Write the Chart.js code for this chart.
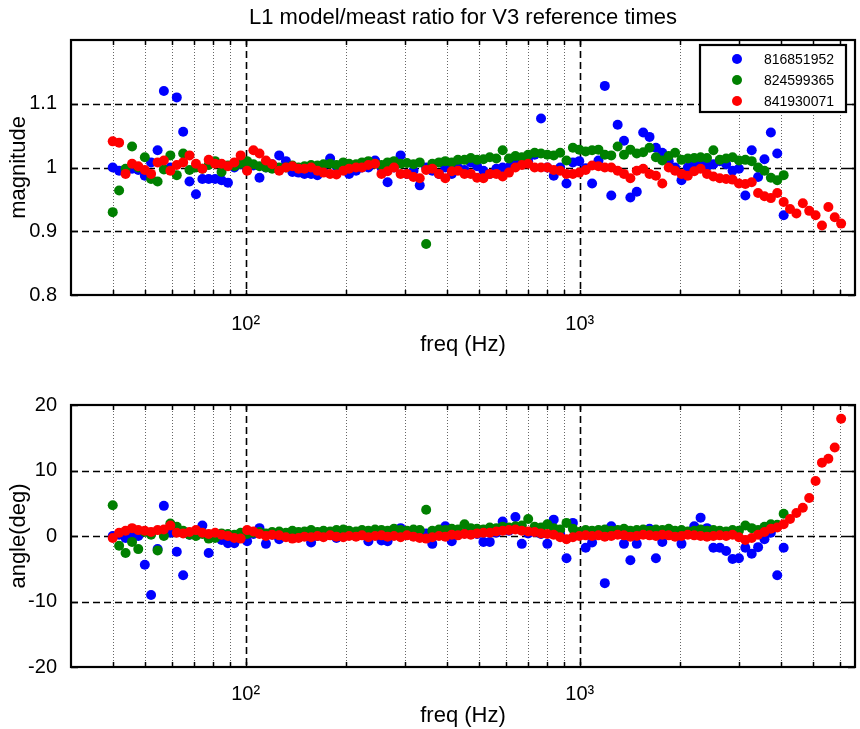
<!DOCTYPE html>
<html>
<head>
<meta charset="utf-8">
<script src="https://cdn.jsdelivr.net/npm/chart.js@4.4.0/dist/chart.umd.min.js"></script>
<style>
  html, body { margin: 0; padding: 0; background: #fff; }
  #wrap { position: relative; width: 860px; height: 729px; }
  .box { position: absolute; left: 0; width: 860px; }
</style>
</head>
<body>
<div id="wrap">
  <div class="box" style="top:0;height:365px"><canvas id="magChart"></canvas></div>
  <div class="box" style="top:365px;height:364px"><canvas id="phaseChart"></canvas></div>
</div>
<script>
// frequencies (Hz) shared by all three reference times
const freqs = [
  40, 41.8, 43.7, 45.7, 47.7, 49.9, 52.1, 54.5, 56.9, 59.5, 62.2, 65, 67.9, 71, 74.2, 77.5, 81, 84.7, 88.5, 92.5,
  96.6, 101, 105.5, 110, 115, 120, 126, 132, 138, 144, 150, 157, 164, 171, 179, 187, 196, 204, 214, 223,
  233, 244, 255, 266, 278, 291, 304, 318, 332, 347, 362, 379, 396, 414, 432, 452, 472, 493, 515, 538,
  563, 588, 614, 642, 671, 701, 733, 766, 800, 836, 874, 913, 954, 997, 1042, 1089, 1138, 1189, 1243, 1299,
  1357, 1418, 1482, 1549, 1618, 1691, 1767, 1847, 1930, 2017, 2107, 2202, 2301, 2405, 2513, 2626, 2744, 2868, 2997, 3132,
  3273, 3420, 3574, 3735, 3903, 4079, 4262, 4454, 4655, 4864, 5083, 5312, 5551, 5801, 6062
];

const labels = ['816851952', '824599365', '841930071'];
const colors = ['#0000ff', '#008000', '#ff0000'];

// magnitude ratio
const magBlue = [
  1.0, 0.995, 0.993, 0.998, 0.996, 0.987, 1.008, 1.027, 1.12, 1.0, 1.11, 1.056, 0.978, 0.958, 0.982, 0.982, 0.982, 0.98, 0.976, 1.0, 1.005, 0.997, 1.003, 0.984, 1.0, 1.005,
  1.019, 1.01, 0.993, 0.992, 0.99, 0.99, 0.988, 0.993, 1.014, 1.002, 0.998, 0.99, 0.995, 1.0, 1.0, 1.011, 1.0, 0.977, 1.0, 1.019, 0.99, 0.995, 0.972, 1.0, 0.995,
  0.99, 1.0, 0.99, 1.0, 0.996, 1.008, 1.002, 0.995, 0.99, 0.998, 1.0, 1.0, 1.006, 1.006, 1.01, 1.02, 1.077, 1.0, 0.987, 1.0, 0.975, 1.008, 1.01, 0.999, 0.975,
  1.011, 1.128, 0.956, 1.067, 1.042, 0.953, 0.962, 1.055, 1.048, 1.031, 1.023, 1.01, 1.0, 0.98, 1.0, 1.005, 1.008, 1.002, 1.005, 1.01, 1.005, 0.995, 0.998, 0.956, 1.027,
  0.985, 1.013, 1.055, 1.022, 0.925
];
const magGreen = [
  0.93, 0.964, 0.998, 1.033, 1.0, 1.016, 0.982, 0.978, 0.997, 1.019, 0.988, 1.022, 0.996, 1.0, 0.998, 1.004, 1.01, 0.993, 1.003, 1.002, 1.006, 1.01, 1.005, 1.002, 1.0, 0.998,
  1.0, 1.0, 1.003, 1.0, 1.002, 1.004, 1.003, 1.005, 1.006, 1.004, 1.008, 1.006, 1.005, 1.008, 1.01, 1.006, 1.004, 1.008, 1.01, 1.006, 1.007, 1.005, 1.008, 0.88, 1.006,
  1.008, 1.01, 1.008, 1.012, 1.012, 1.015, 1.012, 1.013, 1.016, 1.014, 1.027, 1.014, 1.018, 1.016, 1.02, 1.023, 1.022, 1.02, 1.019, 1.023, 1.011, 1.031, 1.028, 1.025, 1.027,
  1.028, 1.02, 1.019, 1.033, 1.02, 1.028, 1.022, 1.024, 1.031, 1.016, 1.011, 1.018, 1.023, 1.012, 1.014, 1.015, 1.016, 1.015, 1.027, 1.012, 1.014, 1.016, 1.011, 1.012, 1.01,
  1.0, 0.995, 0.984, 0.98, 0.988
];
const magRed = [
  1.041, 1.039, 0.99, 1.006, 1.002, 0.996, 0.99, 1.008, 1.011, 0.995, 1.004, 1.008, 1.019, 1.006, 0.998, 1.012, 1.006, 1.006, 1.002, 1.008, 1.019, 0.995, 1.027, 1.022, 1.011, 1.005,
  0.995, 1.0, 1.002, 0.998, 0.998, 1.0, 0.995, 0.992, 0.99, 0.989, 0.995, 0.998, 1.0, 1.0, 1.004, 1.006, 0.99, 0.994, 1.0, 0.99, 0.99, 0.985, 0.983, 0.996, 0.998,
  0.99, 0.983, 0.994, 0.995, 0.99, 0.99, 0.984, 0.983, 0.99, 0.99, 0.986, 0.992, 1.0, 1.004, 1.006, 1.0, 1.0, 1.0, 0.996, 0.995, 0.99, 0.99, 0.992, 0.996, 1.003,
  1.002, 1.0, 1.0, 0.995, 0.99, 0.983, 0.995, 0.998, 0.99, 0.987, 0.975, 1.0, 0.995, 0.99, 0.987, 0.994, 0.998, 0.99, 0.986, 0.983, 0.982, 0.981, 0.975, 0.974, 0.977,
  0.96, 0.955, 0.952, 0.96, 0.946, 0.935, 0.928, 0.944, 0.932, 0.925, 0.909, 0.938, 0.922, 0.912
];

// phase (deg)
const angBlue = [
  0.0, 0.2, -0.3, 0.3, 0.0, -4.4, -9.0, -2.0, 4.6, 0.5, -2.4, -6.0, 0.2, 0.4, 1.6, -2.6, 0.0, -0.6, -1.1, -1.1, 0.0, -0.8, 0.3, 1.2, -1.2, 0.2,
  -0.5, 0.0, 0.3, -0.2, 0.1, -1.0, 0.0, 0.4, 0.2, -0.3, 0.5, 0.3, 0.0, 0.6, -0.8, 0.4, -0.7, -0.8, 0.3, 1.2, 0.2, 0.0, 0.5, 0.4, -1.2,
  0.3, 1.5, -0.8, 0.2, 0.4, 0.6, 0.3, -0.9, -0.9, 0.5, 2.2, 0.8, 2.9, -1.2, 0.4, 0.6, 0.3, -1.2, 2.5, 0.3, -3.4, 2.0, 0.4, -1.8, -1.0,
  0.8, -7.2, 1.5, 0.3, -1.2, -3.7, -1.2, 0.4, 1.1, -3.4, -0.9, 0.2, 0.4, -1.2, 0.3, 1.5, 2.8, 1.2, -1.8, -1.8, -2.3, -3.5, -3.4, -1.8, -2.7,
  -1.7, -0.5, 0.5, -6.0, -1.8
];
const angGreen = [
  4.7, -1.5, -2.6, -0.9, -2.0, 0.6, 0.2, -2.2, 0.0, 1.9, 1.4, 0.8, 0.2, 0.0, 0.3, -0.4, -0.3, 0.4, 0.3, 0.2, 0.5, 0.3, 0.5, 0.6, 0.4, 0.6,
  0.7, 0.5, 0.8, 0.6, 0.7, 0.9, 0.6, 0.8, 0.7, 0.9, 1.0, 0.8, 0.7, 0.9, 0.8, 1.0, 0.9, 0.8, 1.1, 0.9, 0.8, 1.0, 0.9, 4.0, 0.8,
  1.0, 0.9, 1.1, 1.0, 1.8, 1.2, 1.1, 1.0, 1.3, 1.2, 1.4, 1.3, 1.5, 1.6, 2.6, 1.4, 1.3, 1.8, 1.2, 1.0, 2.0, 1.1, 0.6, 0.9, 0.8,
  0.9, 1.0, 0.8, 0.9, 1.1, 0.8, 0.9, 1.0, 0.8, 1.0, 0.9, 1.1, 0.8, 0.9, 0.7, 0.8, 1.0, 0.8, 0.9, 0.8, 0.7, 0.9, 0.8, 1.6, 1.2,
  0.9, 1.4, 1.8, 1.7, 3.4
];
const angRed = [
  -0.3, 0.5, 0.8, 1.2, 0.9, 0.8, 0.6, 0.9, 1.0, 1.6, 0.5, 0.4, 0.6, 0.9, 0.5, 0.3, 0.5, 0.2, 0.0, -0.3, -0.4, 0.9, 0.7, 0.3, 0.0, 0.2,
  0.1, -0.2, -0.4, -0.3, -0.1, -0.2, 0.0, -0.2, 0.1, -0.1, -0.2, 0.0, -0.1, 0.1, -0.2, 0.0, 0.1, -0.1, 0.0, -0.2, 0.1, -0.1, -0.3, -0.4, -0.2,
  0.0, -0.1, 0.2, 0.1, 0.3, 0.2, 0.4, 0.5, 0.5, 0.7, 0.8, 0.9, 1.0, 0.8, 0.7, 0.6, 0.4, 0.3, 0.2, -0.2, -0.5, -0.2, 0.0, 0.1, 0.0,
  0.1, -0.1, 0.0, 0.2, 0.1, -0.1, 0.0, 0.2, 0.1, 0.0, 0.2, 0.1, -0.1, 0.0, 0.2, 0.1, 0.0, -0.1, 0.0, 0.1, 0.0, 0.2, -0.2, -0.6, -0.3,
  0.2, 0.6, 1.1, 1.3, 1.8, 2.6, 3.5, 4.3, 5.8, 8.4, 11.2, 11.8, 13.5, 17.9
];

// x grid lines and tick labels
const freqGrid = [40, 50, 60, 70, 80, 90, 100, 200, 300, 400, 500, 600, 700, 800, 900, 1000, 2000, 3000, 4000, 5000, 6000];
const magTicks = [0.8, 0.9, 1, 1.1];
const angTicks = [-20, -10, 0, 10, 20];

const FONT = "'Liberation Sans', Arial, Helvetica, sans-serif";

function toPoints(vals) {
  return vals.map((v, i) => ({ x: freqs[i], y: v }));
}

function makeDatasets(series) {
  return series.map((vals, i) => ({
    label: labels[i],
    data: toPoints(vals),
    backgroundColor: colors[i],
    borderWidth: 0,
    pointRadius: 5,
    pointHoverRadius: 5,
    pointBorderWidth: 0,
    order: 3 - i
  }));
}

function xScale(tickPad, axisHeight, titlePad) {
  return {
    type: 'logarithmic',
    min: 30,
    max: 6670,
    grid: { display: false },
    border: { display: false },
    afterBuildTicks: s => { s.ticks = freqGrid.map(v => ({ value: v })); },
    afterFit: s => { s.height = axisHeight; },
    ticks: {
      autoSkip: false,
      maxRotation: 0,
      padding: tickPad,
      color: '#000',
      font: { family: FONT, size: 20 },
      callback: v => v === 100 ? '10²' : (v === 1000 ? '10³' : '')
    },
    title: {
      display: true,
      text: 'freq (Hz)',
      color: '#000',
      font: { family: FONT, size: 22 },
      padding: { top: 0, bottom: titlePad }
    }
  };
}

function yScale(min, max, tickVals, title) {
  return {
    min: min,
    max: max,
    grid: { display: false },
    border: { display: false },
    afterBuildTicks: s => { s.ticks = tickVals.map(v => ({ value: v })); },
    afterFit: s => { s.width = 71; },
    ticks: {
      padding: 6,
      color: '#000',
      font: { family: FONT, size: 20 },
      callback: v => String(Math.round(v * 100) / 100)
    },
    title: {
      display: true,
      text: title,
      color: '#000',
      font: { family: FONT, size: 22 },
      padding: { top: 5.8, bottom: 0 }
    }
  };
}

// grid lines, frame and inner tick marks in the matlab look
const framePlugin = {
  id: 'frame',
  beforeDatasetsDraw(chart) {
    const { ctx, chartArea: a, scales: { x, y } } = chart;
    ctx.save();
    x.ticks.forEach(t => {
      const px = Math.round(x.getPixelForValue(t.value)) + 0.5;
      const major = t.value === 100 || t.value === 1000;
      ctx.beginPath();
      ctx.setLineDash(major ? [7, 4] : [1, 2]);
      ctx.strokeStyle = major ? '#000' : 'rgba(0,0,0,0.6)';
      ctx.lineWidth = major ? 1.6 : 1;
      ctx.moveTo(px, a.top);
      ctx.lineTo(px, a.bottom);
      ctx.stroke();
    });
    y.ticks.forEach(t => {
      if (t.value <= y.min || t.value >= y.max) return;
      const py = Math.round(y.getPixelForValue(t.value)) + 0.5;
      ctx.beginPath();
      ctx.setLineDash([7, 4]);
      ctx.strokeStyle = '#000';
      ctx.lineWidth = 1.6;
      ctx.moveTo(a.left, py);
      ctx.lineTo(a.right, py);
      ctx.stroke();
    });
    ctx.restore();
  },
  afterDatasetsDraw(chart) {
    const { ctx, chartArea: a, scales: { x, y } } = chart;
    ctx.save();
    ctx.setLineDash([]);
    ctx.strokeStyle = '#000';
    ctx.lineWidth = 1.5;
    ctx.beginPath();
    x.ticks.forEach(t => {
      const px = Math.round(x.getPixelForValue(t.value)) + 0.5;
      ctx.moveTo(px, a.bottom); ctx.lineTo(px, a.bottom - 5);
      ctx.moveTo(px, a.top); ctx.lineTo(px, a.top + 5);
    });
    y.ticks.forEach(t => {
      const py = Math.round(y.getPixelForValue(t.value)) + 0.5;
      ctx.moveTo(a.left, py); ctx.lineTo(a.left + 7, py);
      ctx.moveTo(a.right, py); ctx.lineTo(a.right - 7, py);
    });
    ctx.stroke();
    ctx.lineWidth = 2.2;
    ctx.strokeRect(a.left, a.top, a.right - a.left, a.bottom - a.top);
    ctx.restore();
  }
};

// boxed legend in the upper right corner of the magnitude plot
const legendPlugin = {
  id: 'boxLegend',
  afterDatasetsDraw(chart) {
    const { ctx, chartArea: a } = chart;
    const w = 146, h = 67;
    const left = a.right - 9 - w, top = a.top + 5;
    ctx.save();
    ctx.fillStyle = '#fff';
    ctx.fillRect(left, top, w, h);
    ctx.strokeStyle = '#000';
    ctx.lineWidth = 2.2;
    ctx.strokeRect(left, top, w, h);
    ctx.font = '14px ' + FONT;
    ctx.textAlign = 'right';
    ctx.textBaseline = 'middle';
    chart.data.datasets.forEach((ds, i) => {
      const cy = top + 14 + i * 21;
      ctx.beginPath();
      ctx.fillStyle = ds.backgroundColor;
      ctx.arc(left + 37, cy, 5, 0, Math.PI * 2);
      ctx.fill();
      ctx.fillStyle = '#000';
      ctx.fillText(ds.label, left + w - 12, cy + 1);
    });
    ctx.restore();
  }
};

new Chart(document.getElementById('magChart'), {
  type: 'scatter',
  data: { datasets: makeDatasets([magBlue, magGreen, magRed]) },
  options: {
    responsive: true,
    maintainAspectRatio: false,
    animation: false,
    layout: { padding: { top: 0, right: 3, left: 0, bottom: 0 } },
    scales: {
      x: xScale(9, 70, 6.8),
      y: yScale(0.8, 1.2, magTicks, 'magnitude')
    },
    plugins: {
      legend: { display: false },
      tooltip: { enabled: false },
      title: {
        display: true,
        fullSize: false,
        text: 'L1 model/meast ratio for V3 reference times',
        color: '#000',
        font: { family: FONT, size: 22, weight: 'normal' },
        padding: { top: 5, bottom: 8.6 }
      }
    }
  },
  plugins: [framePlugin, legendPlugin]
});

new Chart(document.getElementById('phaseChart'), {
  type: 'scatter',
  data: { datasets: makeDatasets([angBlue, angGreen, angRed]) },
  options: {
    responsive: true,
    maintainAspectRatio: false,
    animation: false,
    layout: { padding: { top: 40, right: 3, left: 0, bottom: 0 } },
    scales: {
      x: xScale(7, 62, 0),
      y: yScale(-20, 20, angTicks, 'angle(deg)')
    },
    plugins: {
      legend: { display: false },
      tooltip: { enabled: false }
    }
  },
  plugins: [framePlugin]
});
</script>
</body>
</html>
